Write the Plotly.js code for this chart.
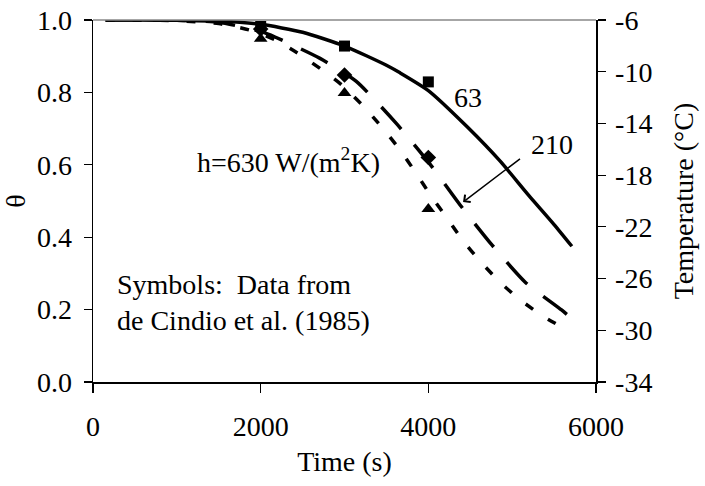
<!DOCTYPE html>
<html>
<head>
<meta charset="utf-8">
<script src="https://cdn.plot.ly/plotly-3.0.1.min.js"></script>
<style>html,body{margin:0;padding:0;background:#fff;}#chart{width:705px;height:486px;}</style>
</head>
<body>
<div id="chart"></div>
<script>
// Model curves (theta vs time)
var t63 = [150, 500, 1000, 1500, 2000, 2500, 3000, 3500, 3663, 4000, 4463, 4857, 5200, 5500, 5712];
var th63 = [1.0, 1.0, 0.999, 0.997, 0.988, 0.966, 0.928, 0.875, 0.854, 0.805, 0.705, 0.61, 0.515, 0.435, 0.375];

var t210 = [150, 1000, 1500, 2016, 2171, 2708, 3137, 3615, 4020, 4379, 4761, 5159, 5589, 5702];
var th210 = [1.0, 0.999, 0.994, 0.967, 0.953, 0.894, 0.831, 0.715, 0.602, 0.489, 0.378, 0.275, 0.199, 0.177];

var t630 = [150, 1000, 1500, 1873, 2172, 2458, 2733, 2970, 3233, 3459, 3662, 3853, 4032, 4223, 4414, 4628, 4867, 5106, 5380, 5654];
var th630 = [1.0, 0.998, 0.99, 0.972, 0.945, 0.906, 0.862, 0.82, 0.76, 0.70, 0.641, 0.577, 0.514, 0.453, 0.39, 0.331, 0.273, 0.225, 0.18, 0.144];

// Experimental data (de Cindio et al., 1985)
var tData = [2000, 3000, 4000];
var thSquares = [0.982, 0.928, 0.829];
var thDiamonds = [0.975, 0.848, 0.62];
var thTriangles = [0.948, 0.798, 0.478];

// Axis ticks
var yTicks = [0, 0.2, 0.4, 0.6, 0.8, 1.0];
var yTickText = ['0.0', '0.2', '0.4', '0.6', '0.8', '1.0'];
var tempTicks = [-34, -30, -26, -22, -18, -14, -10, -6];
var tempTickText = ['-34', '-30', '-26', '-22', '-18', '-14', '-10', '-6'];
var xTicks = [0, 2000, 4000, 6000];
var xTickText = ['0', '2000', '4000', '6000'];

var FONT = 'Liberation Serif';
function tf() { return {family: FONT, size: 28, color: '#000'}; }

var traces = [
  {x: t63, y: th63, mode: 'lines', line: {color: '#000', width: 3.5, shape: 'spline', smoothing: 0.6}, hoverinfo: 'skip'},
  {x: t210, y: th210, mode: 'lines', line: {color: '#000', width: 3.5, dash: '30px,20px', shape: 'spline', smoothing: 0.6}, hoverinfo: 'skip'},
  {x: t630, y: th630, mode: 'lines', line: {color: '#000', width: 3.5, dash: '9px,18px', shape: 'spline', smoothing: 0.6}, hoverinfo: 'skip'},
  {x: tData, y: thDiamonds, mode: 'markers', marker: {symbol: 'diamond', size: 12, color: '#000'}},
  {x: tData, y: thSquares, mode: 'markers', marker: {symbol: 'square', size: 11, color: '#000'}},
  {x: tData, y: thTriangles, mode: 'markers', marker: {symbol: 'triangle-up', size: 12, color: '#000'}},
  {x: [0], y: [-34], yaxis: 'y2', mode: 'markers', marker: {opacity: 0}, hoverinfo: 'skip'}
];

var layout = {
  width: 705, height: 486,
  margin: {l: 93, r: 109, t: 20, b: 104},
  paper_bgcolor: '#fff', plot_bgcolor: '#fff',
  showlegend: false,
  font: tf(),
  xaxis: {
    range: [0, 6000], tickmode: 'array', tickvals: xTicks, ticktext: xTickText,
    showgrid: false, zeroline: false, showline: true, linecolor: '#000', linewidth: 1.5,
    ticks: 'outside', ticklen: 9, tickwidth: 1.2, tickcolor: '#000',
    tickfont: tf(), ticklabelstandoff: 10,
    title: {text: 'Time (s)', font: tf(), standoff: 10}
  },
  yaxis: {
    range: [0, 1], tickmode: 'array', tickvals: yTicks, ticktext: yTickText,
    showgrid: false, zeroline: false, showline: true, linecolor: '#000', linewidth: 1.5,
    ticks: 'outside', ticklen: 8, tickwidth: 1.2, tickcolor: '#000',
    tickfont: tf(), ticklabelstandoff: 6,
    title: {text: 'θ', font: tf(), standoff: 4}
  },
  yaxis2: {
    overlaying: 'y', side: 'right', range: [-34, -6], tickmode: 'array',
    tickvals: tempTicks, ticktext: tempTickText,
    showgrid: false, zeroline: false, showline: true, linecolor: '#000', linewidth: 1.5,
    ticks: 'outside', ticklen: 8, tickwidth: 1.2, tickcolor: '#000',
    tickfont: tf(), ticklabelstandoff: 4,
    title: {text: 'Temperature (°C)', font: tf(), standoff: 22}
  },
  shapes: [
    {type: 'line', xref: 'paper', yref: 'paper', x0: 0, x1: 1, y0: 1, y1: 1, line: {color: '#888', width: 1.5}}
  ],
  annotations: [
    {x: 1217, y: 0.613, xref: 'x', yref: 'y', text: 'h=630 W/(m<sup>2</sup>K)', showarrow: false, xanchor: 'left', yanchor: 'middle', font: tf()},
    {x: 4473, y: 0.785, xref: 'x', yref: 'y', text: '63', showarrow: false, xanchor: 'center', yanchor: 'middle', font: tf()},
    {x: 5475, y: 0.655, xref: 'x', yref: 'y', text: '210', showarrow: false, xanchor: 'center', yanchor: 'middle', font: tf()},
    {x: 4414, y: 0.497, xref: 'x', yref: 'y', ax: 5153, ay: 0.627, axref: 'x', ayref: 'y', text: ' ', showarrow: true, arrowhead: 4, arrowsize: 1.2, arrowwidth: 1.5, arrowcolor: '#000'},
    {x: 266, y: 0.27, xref: 'x', yref: 'y', text: 'Symbols:\u00a0\u00a0Data from', showarrow: false, xanchor: 'left', yanchor: 'middle', font: tf()},
    {x: 266, y: 0.17, xref: 'x', yref: 'y', text: 'de Cindio et al. (1985)', showarrow: false, xanchor: 'left', yanchor: 'middle', font: tf()}
  ]
};

Plotly.newPlot('chart', traces, layout, {displayModeBar: false, staticPlot: true});
</script>
</body>
</html>
